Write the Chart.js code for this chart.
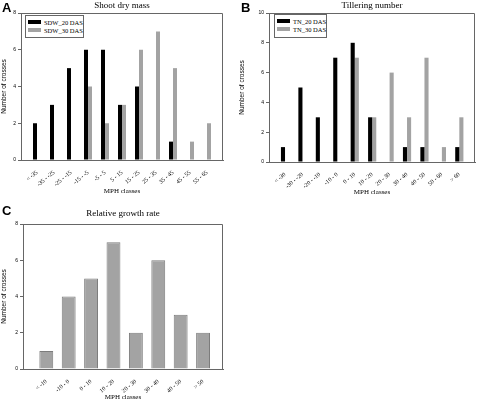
<!DOCTYPE html>
<html>
<head>
<meta charset="utf-8">
<script src="https://cdn.jsdelivr.net/npm/chart.js@4.4.1/dist/chart.umd.min.js"></script>
<style>
  body { margin: 0; background: #fff; }
  .panel { position: absolute; }
  .letter { position: absolute; font: bold 13px "Liberation Sans", Arial, sans-serif; color: #000; }
  .title { position: absolute; font: 9px "Liberation Serif", "Times New Roman", serif; color: #000;
           transform: translate(-50%, -50%); white-space: nowrap; }
  .legend { position: absolute; box-sizing: border-box; border: 1px solid #666; background: #fff; padding: 3px 4px 2px 2px;
            font: 6.5px "Liberation Serif", "Times New Roman", serif; color: #000; }
  .legend div { height: 7.5px; line-height: 7.5px; white-space: nowrap; }
  .legend span.sw { display: inline-block; width: 13px; height: 4px; margin-right: 3px; vertical-align: 1px; }
</style>
</head>
<body>
<div class="panel" style="left:0;top:0;width:238px;height:200px"><canvas id="chartA"></canvas></div>
<div class="panel" style="left:238px;top:0;width:240px;height:200px"><canvas id="chartB"></canvas></div>
<div class="panel" style="left:0;top:200px;width:240px;height:201px"><canvas id="chartC"></canvas></div>
<div class="letter" style="left:2px;top:0px">A</div>
<div class="letter" style="left:241px;top:0px">B</div>
<div class="letter" style="left:2px;top:203px">C</div>
<script>
// panel A - shoot dry mass
const classesA = ['< -35', '-35 - -25', '-25 - -15', '-15 - -5', '-5 - 5', '5 - 15', '15 - 25', '25 - 35', '35 - 45', '45 - 55', '55 - 65'];
const sdw20 = [2, 3, 5, 6, 6, 3, 4, 0, 1, 0, 0];
const sdw30 = [0, 0, 0, 4, 2, 3, 6, 7, 5, 1, 2];
const ticksA = [0, 2, 4, 6, 8];

// panel B - tillering number
const classesB = ['< -30', '-30 - -20', '-20 - -10', '-10 - 0', '0 - 10', '10 - 20', '20 - 30', '30 - 40', '40 - 50', '50 - 60', '> 60'];
const tn20 = [1, 5, 3, 7, 8, 3, 0, 1, 1, 0, 1];
const tn30 = [0, 0, 0, 0, 7, 3, 6, 3, 7, 1, 3];
const ticksB = [0, 2, 4, 6, 8, 10];

// panel C - relative growth rate
const classesC = ['< -10', '-10 - 0', '0 - 10', '10 - 20', '20 - 30', '30 - 40', '40 - 50', '> 50'];
const rgr = [1, 4, 5, 7, 2, 6, 3, 2];
const ticksC = [0, 2, 4, 6, 8];

const serif = '"Liberation Serif", "Times New Roman", serif';
const sans = '"Liberation Sans", Arial, sans-serif';
const BLACK = '#000000';
const GREY = '#a3a3a3';
const GREY_EDGE = '#7c7c7c';
const AXIS = '#666';

// top and right edges of the plot box
const frame = {
  id: 'frame',
  afterDraw(chart) {
    const ctx = chart.ctx, a = chart.chartArea;
    ctx.save();
    ctx.strokeStyle = AXIS;
    ctx.lineWidth = 1;
    ctx.beginPath();
    ctx.moveTo(a.left, a.top + 0.5);
    ctx.lineTo(a.right - 0.5, a.top + 0.5);
    ctx.lineTo(a.right - 0.5, a.bottom);
    ctx.stroke();
    ctx.restore();
  }
};

const points = (arr) => arr.map((v, i) => ({ x: i, y: v }));

function makeChart(id, cfg) {
  const yMax = cfg.yTicks[cfg.yTicks.length - 1];
  const n = cfg.classes.length;
  return new Chart(document.getElementById(id), {
    type: 'bar',
    data: { datasets: cfg.datasets },
    plugins: [frame],
    options: {
      responsive: true,
      maintainAspectRatio: false,
      animation: false,
      layout: { padding: cfg.pad },
      datasets: { bar: { barPercentage: 1, categoryPercentage: cfg.catPct } },
      plugins: {
        legend: { display: false },
        tooltip: { enabled: false }
      },
      scales: {
        x: {
          type: 'linear',
          offset: false,
          min: -cfg.xGap[0], max: n - 1 + cfg.xGap[1],
          afterBuildTicks: (axis) => { axis.ticks = cfg.classes.map((c, i) => ({ value: i })); },
          afterFit: (axis) => { axis.height = cfg.xH; },
          grid: { display: false },
          border: { color: AXIS, width: 1 },
          ticks: {
            color: '#000', minRotation: 40, maxRotation: 40, padding: 1, autoSkip: false,
            font: { family: serif, size: 6 },
            callback: (v) => cfg.classes[v]
          },
          title: {
            display: true, text: 'MPH classes', color: '#000',
            font: { family: serif, size: 7 }, padding: { top: 0, bottom: cfg.xTitleGap }
          }
        },
        y: {
          min: 0, max: yMax,
          afterBuildTicks: (axis) => { axis.ticks = cfg.yTicks.map(v => ({ value: v })); },
          afterFit: (axis) => { axis.width = cfg.yW; },
          grid: { drawOnChartArea: false, tickLength: 3, color: AXIS },
          border: { color: AXIS, width: 1 },
          ticks: {
            color: '#000', padding: 2,
            font: { family: sans, size: 5 }
          },
          title: {
            display: true, text: 'Number of crosses', color: '#000',
            font: { family: sans, size: 6.5 }, padding: { top: 0, bottom: 0 }
          }
        }
      }
    }
  });
}

// title centred over the plot area
function addTitle(chart, text, panelLeft, panelTop, y) {
  const t = document.createElement('div');
  t.className = 'title';
  t.textContent = text;
  t.style.left = (panelLeft + (chart.chartArea.left + chart.chartArea.right) / 2) + 'px';
  t.style.top = (panelTop + y) + 'px';
  document.body.appendChild(t);
}

// legend box placed inside the plot area, built from the chart's datasets
function addLegend(chart, panelLeft, panelTop, dx, dy, w, h) {
  const box = document.createElement('div');
  box.className = 'legend';
  box.style.left = (panelLeft + chart.chartArea.left + dx) + 'px';
  box.style.top = (panelTop + chart.chartArea.top + dy) + 'px';
  box.style.width = w + 'px';
  box.style.height = h + 'px';
  chart.data.datasets.forEach(ds => {
    const row = document.createElement('div');
    const sw = document.createElement('span');
    sw.className = 'sw';
    sw.style.background = ds.backgroundColor;
    row.appendChild(sw);
    row.appendChild(document.createTextNode(ds.label));
    box.appendChild(row);
  });
  document.body.appendChild(box);
}

const chartA = makeChart('chartA', {
  classes: classesA, yTicks: ticksA, catPct: 0.47,
  xGap: [0.94, 0.94], pad: { left: 0, right: 15, top: 13, bottom: 0 },
  yW: 21, xH: 40, xTitleGap: 5,
  datasets: [
    { label: 'SDW_20 DAS', data: points(sdw20), backgroundColor: BLACK, borderWidth: 0 },
    { label: 'SDW_30 DAS', data: points(sdw30), backgroundColor: GREY, borderWidth: 0 }
  ]
});

const chartB = makeChart('chartB', {
  classes: classesB, yTicks: ticksB, catPct: 0.47,
  xGap: [0.92, 0.9], pad: { left: 0, right: 3, top: 13, bottom: 0 },
  yW: 31, xH: 38, xTitleGap: 4,
  datasets: [
    { label: 'TN_20 DAS', data: points(tn20), backgroundColor: BLACK, borderWidth: 0 },
    { label: 'TN_30 DAS', data: points(tn30), backgroundColor: GREY, borderWidth: 0 }
  ]
});

const chartC = makeChart('chartC', {
  classes: classesC, yTicks: ticksC, catPct: 0.62,
  xGap: [1.04, 0.89], pad: { left: 0, right: 17, top: 24, bottom: 0 },
  yW: 23, xH: 32, xTitleGap: 0,
  datasets: [
    { label: 'RGR', data: points(rgr), backgroundColor: GREY, borderColor: GREY_EDGE, borderWidth: 1 }
  ]
});

addTitle(chartA, 'Shoot dry mass', 0, 0, 5);
addTitle(chartB, 'Tillering number', 238, 0, 4.5);
addTitle(chartC, 'Relative growth rate', 0, 200, 13);
addLegend(chartA, 0, 0, 4, 2, 59, 23);
addLegend(chartB, 238, 0, 5, 1, 53, 24);
</script>
</body>
</html>
